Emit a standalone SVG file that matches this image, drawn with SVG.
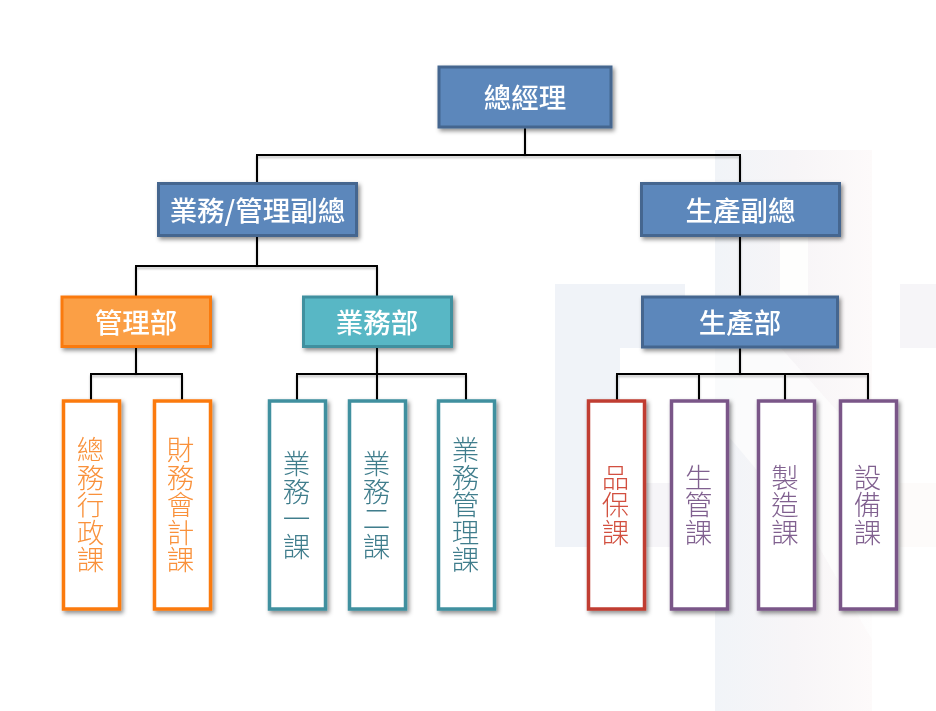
<svg xmlns="http://www.w3.org/2000/svg" width="936" height="711" viewBox="0 0 936 711">
<defs>
<filter id="sh" x="-20%" y="-20%" width="140%" height="140%"><feDropShadow dx="2" dy="2.5" stdDeviation="2" flood-color="#000" flood-opacity="0.45"/></filter>
<filter id="ls" x="-20%" y="-20%" width="140%" height="140%"><feGaussianBlur in="SourceAlpha" stdDeviation="0.8"/><feOffset dy="1.5"/><feComponentTransfer><feFuncA type="linear" slope="0.25"/></feComponentTransfer><feMerge><feMergeNode/><feMergeNode in="SourceGraphic"/></feMerge></filter>
<linearGradient id="band" x1="0" x2="1" y1="0" y2="0"><stop offset="0" stop-color="#f1f4f8"/><stop offset="0.5" stop-color="#f7f5f7"/><stop offset="1" stop-color="#fdfafa"/></linearGradient>
</defs>
<style>
text{font-family:"Noto Sans CJK TC","Noto Sans CJK SC",sans-serif}
.t{font-size:27.500px;font-weight:500;fill:#fff;text-anchor:middle}
.v{font-size:27.500px;font-weight:300;writing-mode:vertical-rl;text-anchor:middle}
.b{fill:#5b87bb;stroke:#44668f;stroke-width:3}
.o{fill:#fb9f45;stroke:#fa7a10;stroke-width:3}
.g{fill:#58b7c5;stroke:#3f909f;stroke-width:3}
.lo,.lg,.lr,.lp{fill:#fff;stroke-width:3.5}
.lo{stroke:#fb7a0c}.lg{stroke:#3f909f}.lr{stroke:#c03c30}.lp{stroke:#7a5688}
.co{fill:#f9913a}.cg{fill:#3f7d8c}.cr{fill:#d2503f}.cp{fill:#80608f}
.c{fill:none;stroke:#000;stroke-width:2}
.bg1{fill:#f0f3f8}.bg2{fill:#f6f5f8}.bg3{fill:#fdfbfa}.bg0{fill:#fefefd}
</style>
<rect width="936" height="711" fill="#fff"/>
<g id="background">
<rect x="715" y="150" width="157" height="561" fill="url(#band)"/>
<rect class="bg0" x="780" y="236" width="28" height="112"/>
<rect class="bg1" x="555" y="284" width="130" height="64"/>
<rect class="bg1" x="555" y="348" width="65" height="199"/>
<rect class="bg2" x="620" y="483" width="95" height="64"/>
<rect class="bg2" x="900" y="284" width="36" height="64"/>
<rect class="bg3" x="900" y="483" width="36" height="64"/>
<polygon class="bg0" points="715,347 780,347 872,450 872,640 815,540 715,420" fill-opacity="0.7"/>
</g>
<g id="connectors" filter="url(#ls)">
<path class="c" d="M525 128V155M257 183V155H740V183"/>
<path class="c" d="M740 236V297"/>
<path class="c" d="M257 236V266M136 296V266H377V296"/>
<path class="c" d="M136 347V374M91 400V374H182V400"/>
<path class="c" d="M377 347V374M297 400V374H466V400M377 374V400"/>
<path class="c" d="M740 347V374M617 400V374H868V400M699 374V400M785 374V400"/>
</g>
<g id="n1" filter="url(#sh)"><rect class="b" x="439" y="67" width="172" height="60"/><text class="t" x="525" y="108">總經理</text></g>
<g id="n2" filter="url(#sh)"><rect class="b" x="158.500" y="183.500" width="198" height="52"/><text class="t" x="257.500" y="221">業務/管理副總</text></g>
<g id="n3" filter="url(#sh)"><rect class="b" x="641.500" y="183.500" width="198" height="52"/><text class="t" x="740.500" y="221">生產副總</text></g>
<g id="n4" filter="url(#sh)"><rect class="o" x="62" y="297" width="148.500" height="49.500"/><text class="t" x="136" y="333">管理部</text></g>
<g id="n5" filter="url(#sh)"><rect class="g" x="303.500" y="297" width="148" height="49.500"/><text class="t" x="377" y="333">業務部</text></g>
<g id="n6" filter="url(#sh)"><rect class="b" x="642.500" y="297" width="195" height="50"/><text class="t" x="740" y="333">生產部</text></g>
<g id="l1" filter="url(#sh)"><rect class="lo" x="63.500" y="401" width="56" height="208"/><text class="v co" x="90.500" y="505">總務行政課</text></g>
<g id="l2" filter="url(#sh)"><rect class="lo" x="154.500" y="401" width="56" height="208"/><text class="v co" x="180.500" y="505">財務會計課</text></g>
<g id="l3" filter="url(#sh)"><rect class="lg" x="269.500" y="401" width="56" height="208"/><text class="v cg" x="296.500" y="505">業務一課</text></g>
<g id="l4" filter="url(#sh)"><rect class="lg" x="349.500" y="401" width="56" height="208"/><text class="v cg" x="376.500" y="505">業務二課</text></g>
<g id="l5" filter="url(#sh)"><rect class="lg" x="438.500" y="401" width="56" height="208"/><text class="v cg" x="465.500" y="505">業務管理課</text></g>
<g id="l6" filter="url(#sh)"><rect class="lr" x="588.500" y="401" width="56" height="208"/><text class="v cr" x="615.500" y="505">品保課</text></g>
<g id="l7" filter="url(#sh)"><rect class="lp" x="671.500" y="401" width="56" height="208"/><text class="v cp" x="698.500" y="505">生管課</text></g>
<g id="l8" filter="url(#sh)"><rect class="lp" x="758.500" y="401" width="56" height="208"/><text class="v cp" x="785" y="505">製造課</text></g>
<g id="l9" filter="url(#sh)"><rect class="lp" x="840.500" y="401" width="56" height="208"/><text class="v cp" x="867.500" y="505">設備課</text></g>
</svg>
